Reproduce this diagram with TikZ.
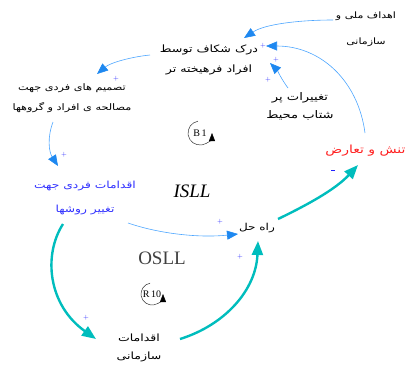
\documentclass[tikz,border=0pt]{standalone}
\usepackage{fontspec}
\setmainfont{Liberation Serif}
\newfontfamily\fa[Script=Arabic,FakeStretch=1.25]{DejaVu Sans}
\TeXXeTstate=1
\usetikzlibrary{arrows.meta}
\definecolor{lnblue}{HTML}{4DA6FF}
\definecolor{tipblue}{HTML}{1E88F0}
\definecolor{tealc}{HTML}{00BDBD}
\definecolor{plusblue}{HTML}{2020FF}
\definecolor{redtxt}{HTML}{FF2020}
\definecolor{bluetxt}{HTML}{3030FF}
\newcommand\rl[1]{\beginR #1\endR}
\begin{document}
\begin{tikzpicture}[x=1pt,y=-1pt,
  lab/.style={align=center, inner sep=1pt},
  bl/.style={draw=lnblue, line width=0.6pt, -{Triangle[length=11pt,width=9pt,color=tipblue]}},
  tl/.style={draw=tealc, line width=2.4pt, -{Triangle[length=14pt,width=11pt,color=tealc]}},
  sign/.style={text=plusblue, font=\sffamily\fontsize{7}{7}\selectfont, inner sep=0pt},
  loopmark/.style={font=\fontsize{10}{10}\selectfont, inner sep=0pt},
  looparc/.style={draw=black!80, line width=0.5pt, -{Triangle[length=8pt,width=6pt,color=black]}}
]
\useasboundingbox (0,0) rectangle (406,365);

% text nodes
\node[lab, font=\fa\fontsize{8.8}{26}\selectfont] (goals) at (366,29) {\rl{اهداف ملی و}\\\rl{سازمانی}};
\node[lab, font=\fa\fontsize{10.1}{20}\selectfont] (gap) at (209,60) {\rl{درک شکاف توسط}\\\rl{افراد فرهیخته تر}};
\node[lab, font=\fa\fontsize{9}{20}\selectfont] (dec) at (72,98) {\rl{تصمیم های فردی جهت}\\\rl{مصالحه ی افراد و گروهها}};
\node[lab, font=\fa\fontsize{10.5}{18}\selectfont] (env) at (300,106) {\rl{تغییرات پر}\\\rl{شتاب محیط}};
\node[lab, font=\fa\fontsize{11.2}{14}\selectfont, text=redtxt] (tension) at (365.5,151) {\rl{تنش و تعارض}};
\node[lab, font=\fa\fontsize{9.8}{24}\selectfont, text=bluetxt] (ind) at (85,198) {\rl{اقدامات فردی جهت}\\\rl{تغییر روشها}};
\node[lab, font=\fa\fontsize{9.6}{12}\selectfont] (sol) at (257,228) {\rl{راه حل}};
\node[lab, font=\fa\fontsize{10}{18}\selectfont] (org) at (139,348) {\rl{اقدامات}\\\rl{سازمانی}};

\node[font=\itshape\fontsize{19}{19}\selectfont, inner sep=0pt] (isll) at (192,191) {ISLL};
\node[font=\fontsize{19}{19}\selectfont, text=black!75, inner sep=0pt] (osll) at (162,258) {OSLL};

% loop markers
\node[loopmark] (b1) at (200,133) {B\,1};
\draw[looparc] ([shift={(100:12pt)}]b1.center) arc[start angle=100, end angle=360, radius=12pt];
\node[loopmark] (r10) at (152,294) {R\,10};
\draw[looparc] ([shift={(100:11pt)}]r10.center) arc[start angle=100, end angle=360, radius=11pt];

% connector end points
\coordinate (goals-out) at (333,20);
\coordinate (gap-in1) at (244,38);
\coordinate (ten-out) at (365,133);
\coordinate (gap-in2) at (266,46);
\coordinate (env-out) at (288,88);
\coordinate (gap-in3) at (270,63);
\coordinate (gap-out) at (150,55);
\coordinate (dec-in) at (97,74);
\coordinate (dec-out) at (53,122);
\coordinate (ind-in) at (58,166);
\coordinate (ind-out) at (128,223);
\coordinate (sol-in) at (238,234);
\coordinate (sol-out) at (278,219);
\coordinate (ten-in) at (358,165);
\coordinate (ind-out2) at (63,224);
\coordinate (org-in) at (96,339);
\coordinate (org-out) at (180,339);
\coordinate (sol-in2) at (258,241);

% blue connectors
\draw[bl] (goals-out) .. controls (300,20) and (265,24) .. (gap-in1);
\draw[bl] (ten-out) .. controls (358,80) and (320,46) .. (gap-in2);
\draw[bl] (env-out) .. controls (282,80) and (277,70) .. (gap-in3);
\draw[bl] (gap-out) .. controls (130,57) and (110,63) .. (dec-in);
\draw[bl] (dec-out) .. controls (47,138) and (49,152) .. (ind-in);
\draw[bl] (ind-out) .. controls (160,234) and (200,238) .. (sol-in);

% teal connectors
\draw[tl] (sol-out) .. controls (305,206) and (335,190) .. (ten-in);
\draw[tl] (ind-out2) .. controls (43,255) and (48,305) .. (org-in);
\draw[tl] (org-out) .. controls (225,325) and (256,290) .. (sol-in2);

% polarity signs
\node[sign] (p1) at (263,46) {+};
\node[sign] (p2) at (276,60) {+};
\node[sign] (p3) at (268,80) {+};
\node[sign] (p4) at (116,79) {+};
\node[sign] (p5) at (64,155) {+};
\node[sign] (p6) at (220,222) {+};
\node[sign] (p7) at (86,318) {+};
\node[sign] (p8) at (240,257) {+};
\node[sign] (m1) at (333,171) {\rule[2.2pt]{4pt}{0.6pt}};
\end{tikzpicture}
\end{document}
